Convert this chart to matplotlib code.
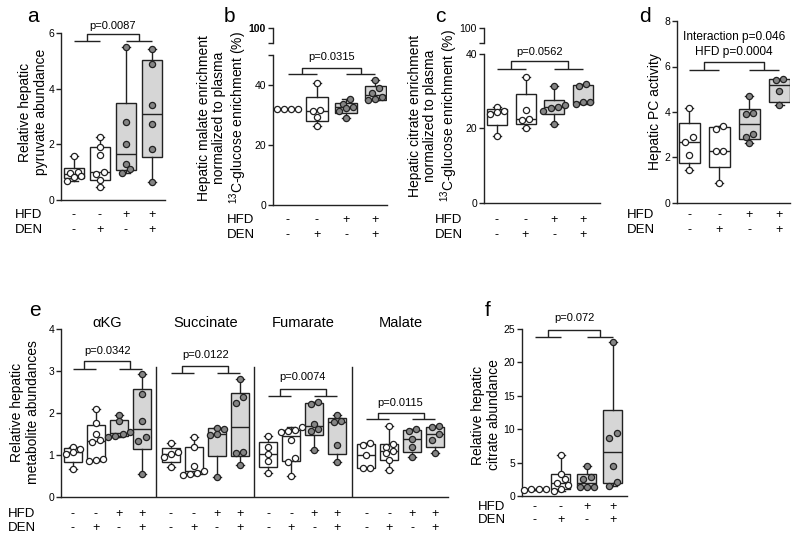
import numpy as np
import matplotlib
matplotlib.use('Agg')
import matplotlib.pyplot as plt
from matplotlib.transforms import blended_transform_factory

plt.rcParams['font.family'] = ['Liberation Sans', 'DejaVu Sans']
plt.rcParams['mathtext.fontset'] = 'custom'
plt.rcParams['mathtext.rm'] = 'Liberation Sans'

# group labels (same 4 groups in every panel)
hfd = ['-', '-', '+', '+']
den = ['-', '+', '-', '+']

# a: relative hepatic pyruvate abundance
pyruvate = [[1.57, 1.0, 0.98, 0.87, 0.83, 0.68],
            [2.27, 1.92, 1.6, 1.0, 0.95, 0.72, 0.45],
            [5.5, 2.8, 2.0, 1.3, 1.1, 0.97],
            [5.42, 4.88, 3.43, 2.72, 1.83, 0.63]]
# b: malate enrichment (%)
malate_enr = [[32.1, 32.0, 32.0, 31.9],
              [40.6, 31.7, 31.4, 29.4, 26.3],
              [35.2, 33.8, 32.8, 32.3, 31.4, 29.0],
              [41.7, 38.9, 37.5, 36.0, 35.2, 35.0]]
# c: citrate enrichment (%)
citrate_enr = [[25.7, 24.6, 24.3, 23.8, 18.1],
               [33.8, 24.9, 22.6, 22.2, 20.1],
               [31.5, 26.2, 25.9, 25.6, 24.8, 21.3],
               [32.0, 31.5, 27.2, 27.0, 26.7]]
# d: hepatic PC activity
pc_activity = [[4.16, 2.91, 2.69, 2.1, 1.44],
               [3.4, 3.27, 2.3, 2.27, 0.9],
               [4.71, 3.96, 3.92, 3.05, 2.9, 2.64],
               [5.46, 5.42, 4.93, 4.3]]
# e: relative metabolite abundances
metabolites = ['\u03b1KG', 'Succinate', 'Fumarate', 'Malate']
akg = [[1.18, 1.15, 1.06, 1.03, 0.66],
       [2.1, 1.77, 1.5, 1.35, 1.3, 0.9, 0.87, 0.85],
       [1.95, 1.8, 1.55, 1.5, 1.45, 1.43],
       [2.92, 2.45, 1.8, 1.42, 1.33, 0.55]]
succinate = [[1.29, 1.06, 1.03, 0.95, 0.72],
             [1.42, 1.18, 0.73, 0.62, 0.57, 0.55, 0.53],
             [1.65, 1.62, 1.5, 1.48, 0.48],
             [2.82, 2.37, 2.25, 1.07, 1.05, 0.77]]
fumarate = [[1.46, 1.18, 1.02, 0.85, 0.58],
            [1.67, 1.6, 1.58, 1.55, 1.36, 0.94, 0.84, 0.5],
            [2.26, 2.22, 1.75, 1.62, 1.58, 1.12],
            [1.95, 1.8, 1.78, 1.24, 0.83]]
malate_ab = [[1.28, 1.25, 1.0, 0.7, 0.68],
             [1.7, 1.27, 1.2, 1.1, 1.04, 0.88, 0.64],
             [1.62, 1.58, 1.37, 1.2, 0.96],
             [1.68, 1.66, 1.5, 1.36, 1.04]]
# f: relative hepatic citrate abundance
citrate_ab = [[1.05, 1.0, 0.98, 0.97],
              [6.1, 3.3, 2.5, 2.0, 1.6, 1.0, 0.8],
              [4.55, 2.8, 2.5, 1.4, 1.35, 1.3],
              [23.0, 9.4, 8.65, 4.5, 2.15, 1.55]]

pvals_e = ['p=0.0342', 'p=0.0122', 'p=0.0074', 'p=0.0115']

GREY = '#d6d6d6'
DOT_GREY = '#858585'
INK = '#222222'
W, H = 800, 542
DIAM = 6.2  # marker diameter in px

fig = plt.figure(figsize=(8, 5.42), dpi=100)


def px_axes(l, t, r, b):
    return fig.add_axes([l / W, 1 - b / H, (r - l) / W, (b - t) / H])


def style(ax, xlim, ylim, yticks, labels=None):
    ax.set_xlim(*xlim)
    ax.set_ylim(*ylim)
    ax.patch.set_visible(False)
    for s in ['top', 'right']:
        ax.spines[s].set_visible(False)
    for s in ['left', 'bottom']:
        ax.spines[s].set_linewidth(1.0)
        ax.spines[s].set_color(INK)
    ax.set_xticks([])
    ax.set_yticks(yticks)
    if labels is not None:
        ax.set_yticklabels(labels)
    ax.tick_params(axis='y', length=3.5, width=1, labelsize=7.5, pad=1.5, color=INK)


def swarm(ax, vals):
    vals = np.asarray(vals, float)
    ys = ax.transData.transform(np.column_stack([np.zeros(len(vals)), vals]))[:, 1]
    rows = []
    for i in np.argsort(ys):
        if rows and ys[i] - ys[rows[-1][0]] < DIAM * 0.95:
            rows[-1].append(i)
        else:
            rows.append([i])
    off = np.zeros(len(vals))
    for r in rows:
        n = len(r)
        for k, i in enumerate(r):
            off[i] = (k - (n - 1) / 2) * DIAM * 1.15
    p0 = ax.transData.transform((0, 0))
    p1 = ax.transData.transform((1, 0))
    return off / (p1[0] - p0[0])


def boxes(ax, xs, groups, width, capw):
    stats = []
    for v in groups:
        q1, med, q3 = np.percentile(v, [25, 50, 75], method='weibull')
        stats.append(dict(med=med, q1=q1, q3=q3, whislo=min(v), whishi=max(v), fliers=[]))
    line = dict(color=INK, lw=1.0)
    bp = ax.bxp(stats, positions=xs, widths=width, patch_artist=True, showfliers=False,
                manage_ticks=False, capwidths=capw,
                boxprops=dict(lw=1.0, edgecolor=INK),
                medianprops=line, whiskerprops=line, capprops=line)
    for patch, h in zip(bp['boxes'], hfd * (len(groups) // 4)):
        patch.set_facecolor(GREY if h == '+' else 'white')
    for x, v, h in zip(xs, groups, hfd * (len(groups) // 4)):
        ax.scatter(x + swarm(ax, v), v, s=(DIAM * 0.72) ** 2,
                   facecolor=DOT_GREY if h == '+' else 'white',
                   edgecolor=INK, linewidth=0.9, zorder=3, clip_on=False)


def bracket(ax, xs, low, high, text=None, ty=None, fs=8):
    kw = dict(color=INK, lw=1.0, clip_on=False, solid_capstyle='butt')
    ax.plot([xs[0], xs[1]], [low, low], **kw)
    ax.plot([xs[2], xs[3]], [low, low], **kw)
    m1 = (xs[0] + xs[1]) / 2
    m2 = (xs[2] + xs[3]) / 2
    ax.plot([m1, m1, m2, m2], [low, high, high, low], **kw)
    if text:
        ax.text((m1 + m2) / 2, ty, text, ha='center', va='center', fontsize=fs)


def signs(ax, xs, y_hfd, y_den, label_x):
    tr = blended_transform_factory(ax.transData, fig.transFigure)
    for i, x in enumerate(xs):
        ax.text(x, 1 - y_hfd / H, hfd[i % 4], transform=tr, ha='center', va='center', fontsize=9)
        ax.text(x, 1 - y_den / H, den[i % 4], transform=tr, ha='center', va='center', fontsize=9)
    fig.text(label_x / W, 1 - y_hfd / H, 'HFD', ha='left', va='center', fontsize=9.5)
    fig.text(label_x / W, 1 - y_den / H, 'DEN', ha='left', va='center', fontsize=9.5)


def ylabel(x, y, text):
    fig.text(x / W, 1 - y / H, text, rotation=90, ha='center', va='center',
             fontsize=10, linespacing=1.1, multialignment='center')


def letter(x, y, t):
    fig.text(x / W, 1 - y / H, t, ha='center', va='center', fontsize=15)


def upper_break(l, r, t, b, bold=False):
    axu = px_axes(l, t, r, b)
    style(axu, (0, 1), (90, 100), [90, 100], ['', '100'])
    axu.spines['bottom'].set_visible(False)
    if bold:
        axu.get_yticklabels()[1].set_fontweight('bold')
    return axu


xs4 = [1, 2, 3, 4]

# ---- a
ax = px_axes(61, 33, 165, 200)
style(ax, (0.5, 4.5), (0, 6), [0, 2, 4, 6])
boxes(ax, xs4, pyruvate, 0.77, 0.3)
bracket(ax, xs4, 5.7, 5.96, 'p=0.0087', 6.25)
signs(ax, xs4, 215, 230, 15)
ylabel(33, 112, 'Relative hepatic\npyruvate abundance')
letter(33, 17, 'a')

# ---- b
ax = px_axes(273, 55, 387, 205)
style(ax, (0.5, 4.4), (0, 50), [0, 20, 40, 50], ['0', '20', '40', ''])
boxes(ax, xs4, malate_enr, 0.73, 0.27)
bracket(ax, xs4, 43.7, 45.8, 'p=0.0315', 49.4)
upper_break(273, 387, 28, 43, bold=True)
signs(ax, xs4, 220, 235, 227)
ylabel(223, 118, 'Hepatic malate enrichment\nnormalized to plasma\n$^{13}$C-glucose enrichment (%)')
letter(229, 17, 'b')

# ---- c
ax = px_axes(484, 54, 600, 203)
style(ax, (0.55, 4.6), (0, 40), [0, 20, 40])
boxes(ax, xs4, citrate_enr, 0.7, 0.28)
bracket(ax, xs4, 36, 38, 'p=0.0562', 40.6)
upper_break(484, 600, 28, 43)
signs(ax, xs4, 220, 235, 435)
ylabel(434, 116, 'Hepatic citrate enrichment\nnormalized to plasma\n$^{13}$C-glucose enrichment (%)')
letter(440, 17, 'c')

# ---- d
ax = px_axes(677, 21, 790, 203)
style(ax, (0.6, 4.35), (0, 8), [0, 2, 4, 6, 8])
boxes(ax, xs4, pc_activity, 0.7, 0.27)
bracket(ax, xs4, 5.84, 6.21)
ax.text(2.5, 7.28, 'Interaction p=0.046', ha='center', va='center', fontsize=8.6)
ax.text(2.5, 6.65, 'HFD p=0.0004', ha='center', va='center', fontsize=8.6)
signs(ax, xs4, 215, 230, 627)
ylabel(655, 112, 'Hepatic PC activity')
letter(645, 17, 'd')

# ---- e
step = 4.25
xs_e = [k * step + j for k in range(4) for j in range(4)]
ax = px_axes(61, 329, 448, 497)
style(ax, (-0.52, 3 * step + 3.56), (0, 4), [0, 1, 2, 3, 4])
boxes(ax, xs_e, akg + succinate + fumarate + malate_ab, 0.78, 0.35)
for k in range(1, 4):
    ax.plot([k * step - 0.625] * 2, [0, 3.1], color=INK, lw=1.0)
br_e = [(3.05, 3.24, 3.47), (2.96, 3.12, 3.37), (2.41, 2.57, 2.86), (1.85, 2.0, 2.24)]
for k in range(4):
    sec = xs_e[4 * k:4 * k + 4]
    lo, hi, ty = br_e[k]
    bracket(ax, sec, lo, hi, pvals_e[k], ty)
    ax.text(np.mean(sec), 4.14, metabolites[k], ha='center', va='center', fontsize=10.5)
signs(ax, xs_e, 514, 528, 8)
ylabel(25, 412, 'Relative hepatic\nmetabolite abundances')
letter(35, 311, 'e')

# ---- f
ax = px_axes(522, 329, 627, 496)
style(ax, (0.5, 4.54), (0, 25), [0, 5, 10, 15, 20, 25])
boxes(ax, xs4, citrate_ab, 0.73, 0.3)
bracket(ax, xs4, 23.8, 24.9, 'p=0.072', 26.6)
signs(ax, xs4, 507, 520, 478)
ylabel(486, 415, 'Relative hepatic\ncitrate abundance')
letter(488, 311, 'f')

fig.savefig('out.png', dpi=100)
